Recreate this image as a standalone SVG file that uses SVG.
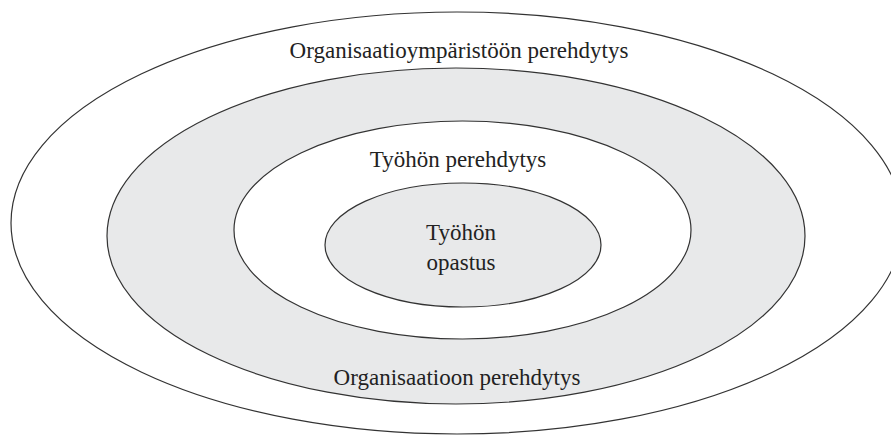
<svg xmlns="http://www.w3.org/2000/svg" width="891" height="439" viewBox="0 0 891 439">
<style>
.e{stroke:#333;stroke-width:1.2}
.g{fill:#e8e9ea}
.w{fill:#fff}
text{font-family:"Liberation Serif","Times New Roman",serif;font-size:23px;fill:#222;text-anchor:middle}
</style>
<rect width="891" height="439" fill="#fff"/>
<g id="outer"><ellipse class="e w" cx="457" cy="223" rx="446" ry="211"/><text x="459" y="58">Organisaatioympäristöön perehdytys</text></g>
<g id="org"><ellipse class="e g" cx="456" cy="236" rx="349" ry="168"/><text x="457" y="385">Organisaatioon perehdytys</text></g>
<g id="work"><ellipse class="e w" cx="462.5" cy="230" rx="228.5" ry="109"/><text x="458" y="167">Työhön perehdytys</text></g>
<g id="guide"><ellipse class="e g" cx="463" cy="245" rx="138" ry="62"/><text x="461" y="240">Työhön</text><text x="461" y="270">opastus</text></g>
</svg>
